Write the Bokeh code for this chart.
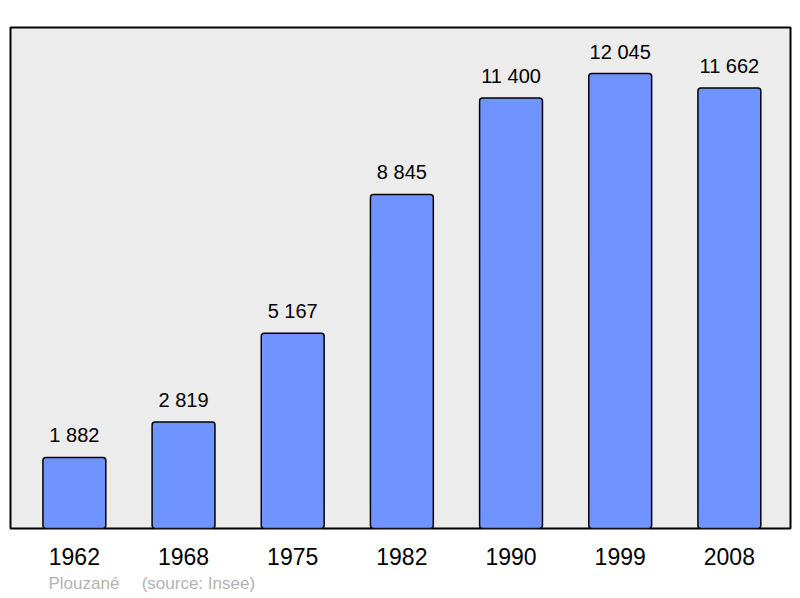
from bokeh.plotting import figure
from bokeh.models import ColumnDataSource, FixedTicker, Range1d, Title
from bokeh.core.properties import value
from bokeh.embed import file_html
from bokeh.resources import INLINE

years = ["1962", "1968", "1975", "1982", "1990", "1999", "2008"]
population = [1882, 2819, 5167, 8845, 11400, 12045, 11662]
value_labels = ["1 882", "2 819", "5 167", "8 845", "11 400", "12 045", "11 662"]
source_note = "Plouzané\u00a0\u00a0\u00a0\u00a0\u2009(source: Insee)"

xs = list(range(len(years)))
src = ColumnDataSource(dict(x=xs, y=population, lab=value_labels))

FONT = "Liberation Sans"

p = figure(width=792, height=598, output_backend="svg", toolbar_location=None,
           x_range=Range1d(-0.585, 6.56), y_range=Range1d(0, 13264),
           min_border_left=10, min_border_right=2, min_border_top=27, min_border_bottom=70)
p.background_fill_color = "#ececec"
p.border_fill_color = "white"
p.outline_line_color = "black"
p.outline_line_width = 2
p.xgrid.visible = False
p.ygrid.visible = False
p.yaxis.visible = False

p.vbar(x="x", top="y", width=0.576, bottom=0, source=src, fill_color="#7094ff",
       line_color="black", line_width=1.5, border_radius=3)
p.text(x="x", y="y", text="lab", source=src, text_align="center", text_baseline="alphabetic",
       y_offset=-22, text_font=value(FONT), text_font_size="20px", text_color="black")

ax = p.xaxis[0]
ax.ticker = FixedTicker(ticks=xs)
ax.major_label_overrides = {i: y for i, y in enumerate(years)}
ax.axis_line_color = None
ax.major_tick_line_color = None
ax.minor_tick_line_color = None
ax.major_tick_out = 0
ax.major_label_standoff = 19
ax.major_label_text_font = FONT
ax.major_label_text_font_size = "23px"
ax.major_label_text_color = "black"

note = Title(text=source_note, align="left", offset=38, standoff=9,
             text_font=FONT, text_font_size="17px", text_font_style="normal",
             text_color="#b3b3b3")
p.add_layout(note, "below")

open("out.html", "w").write(file_html(p, INLINE))
